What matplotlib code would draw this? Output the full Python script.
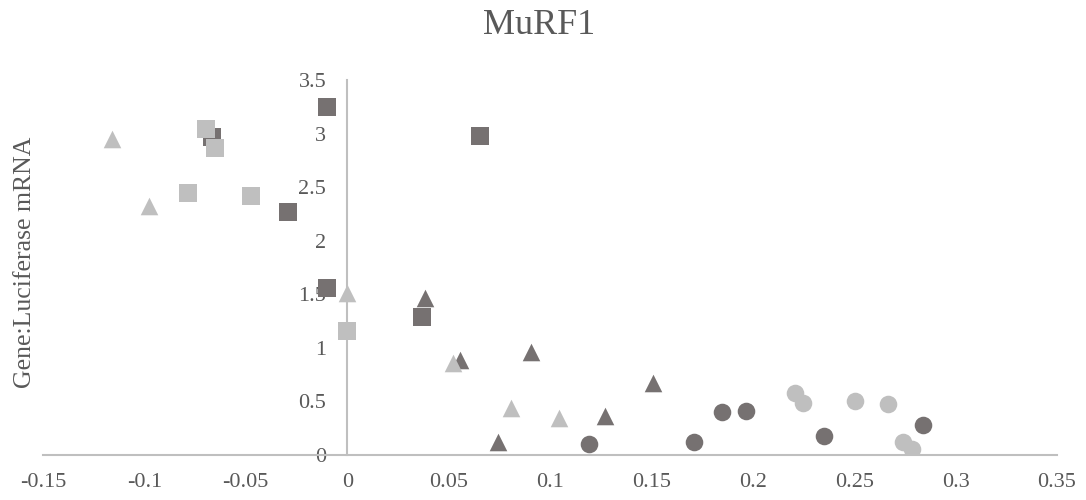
import matplotlib
matplotlib.use("Agg")
import matplotlib.pyplot as plt

plt.rcParams["font.family"] = ["Liberation Serif", "DejaVu Serif"]

# dark series
dark_sq_x = [-0.0099, 0.0657, -0.029, -0.0099, 0.037, -0.0666]
dark_sq_y = [3.25, 2.98, 2.27, 1.56, 1.29, 2.97]
dark_tri_x = [0.0385, 0.0558, 0.0908, 0.0745, 0.127, 0.151]
dark_tri_y = [1.47, 0.89, 0.96, 0.12, 0.36, 0.67]
dark_circ_x = [0.1194, 0.171, 0.1846, 0.1965, 0.235, 0.2838]
dark_circ_y = [0.10, 0.12, 0.40, 0.41, 0.18, 0.28]

# light series
light_sq_x = [-0.0696, -0.065, -0.0785, -0.0474, 0.0]
light_sq_y = [3.04, 2.87, 2.45, 2.42, 1.16]
light_tri_x = [-0.116, -0.0977, 0.0, 0.0523, 0.081, 0.1046]
light_tri_y = [2.95, 2.32, 1.51, 0.86, 0.44, 0.345]
light_circ_x = [0.221, 0.2246, 0.2503, 0.2665, 0.274, 0.2784]
light_circ_y = [0.58, 0.49, 0.50, 0.48, 0.12, 0.06]

x_ticks = [-0.15, -0.1, -0.05, 0, 0.05, 0.1, 0.15, 0.2, 0.25, 0.3, 0.35]
x_labels = ["-0.15", "-0.1", "-0.05", "0", "0.05", "0.1", "0.15", "0.2", "0.25", "0.3", "0.35"]
y_ticks = [0, 0.5, 1, 1.5, 2, 2.5, 3, 3.5]
y_labels = ["0", "0.5", "1", "1.5", "2", "2.5", "3", "3.5"]

dark = "#767171"
light = "#BFBFBF"
text_col = "#595959"
W, H = 1086, 500

fig = plt.figure(figsize=(W / 100, H / 100), dpi=100)
ax = fig.add_axes([43 / W, 45 / H, (1057 - 43) / W, (455 - 80) / H])

ms = 160
ax.scatter(dark_sq_x, dark_sq_y, marker="s", s=ms, color=dark, linewidths=0, zorder=3)
ax.scatter(dark_tri_x, dark_tri_y, marker="^", s=ms, color=dark, linewidths=0, zorder=3)
ax.scatter(dark_circ_x, dark_circ_y, marker="o", s=ms, color=dark, linewidths=0, zorder=3)
ax.scatter(light_sq_x, light_sq_y, marker="s", s=ms, color=light, linewidths=0, zorder=4)
ax.scatter(light_tri_x, light_tri_y, marker="^", s=ms, color=light, linewidths=0, zorder=4)
ax.scatter(light_circ_x, light_circ_y, marker="o", s=ms, color=light, linewidths=0, zorder=4)

ax.set_xlim(-0.15, 0.35)
ax.set_ylim(0, 3.5)

for s in ["top", "right"]:
    ax.spines[s].set_visible(False)
ax.spines["left"].set_position(("data", 0))
ax.spines["left"].set_color(light)
ax.spines["left"].set_linewidth(1.5)
ax.spines["bottom"].set_color(light)
ax.spines["bottom"].set_linewidth(1.5)

ax.set_xticks(x_ticks)
ax.set_xticklabels(x_labels)
ax.set_yticks(y_ticks)
ax.set_yticklabels(y_labels)
ax.tick_params(axis="x", length=0, pad=13, labelsize=16, labelcolor=text_col)
ax.tick_params(axis="y", length=0, pad=15, labelsize=16, labelcolor=text_col)

fig.text(539 / W, 1 - 26 / H, "MuRF1", ha="center", va="center",
         fontsize=26, color=text_col)
fig.text(25 / W, 1 - 262 / H, "Gene:Luciferase mRNA", ha="center", va="center",
         rotation=90, fontsize=18.5, color=text_col)

fig.savefig("out.png", dpi=100)
